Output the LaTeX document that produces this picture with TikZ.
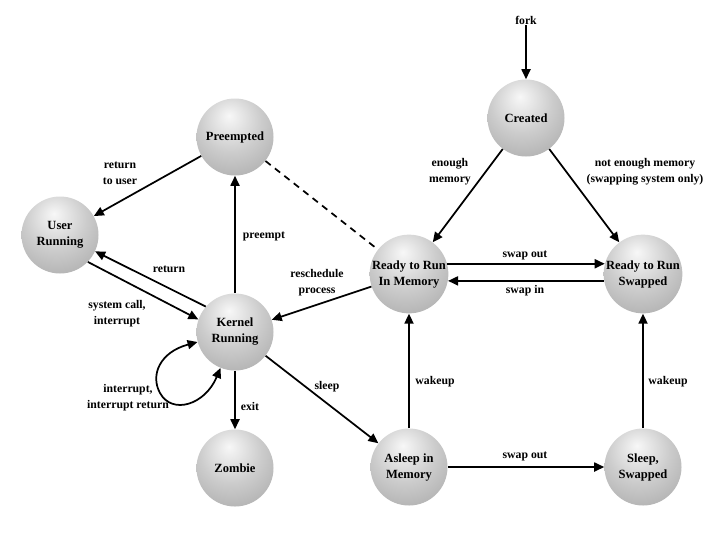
\documentclass[tikz,border=0pt]{standalone}
\usepackage{fontspec}
\setmainfont{Liberation Serif}
\usetikzlibrary{arrows.meta}

\pgfdeclareradialshading{procball}{\pgfpoint{-4bp}{14bp}}{color(0bp)=(black!3); color(20bp)=(black!20); color(52bp)=(black!42); color(72bp)=(black!50)}

\tikzset{
  state/.style={circle, shading=procball, minimum size=57.75pt, inner sep=0pt, align=center,
    font=\fontsize{9.4}{12}\selectfont\bfseries},
  lbl/.style={inner sep=0.75pt, align=center, font=\fontsize{8.8}{12}\selectfont\bfseries},
  arr/.style={line width=1.3pt, -{Triangle[length=7.5pt,width=6.75pt]}},
}

\begin{document}
\begin{tikzpicture}[x=0.75pt,y=0.75pt,yscale=-1]
\useasboundingbox (0,0) rectangle (720,540);

%Shape: Circle [states]
\node [state] (cr) at (526,118) {Created};
\node [state] (pre) at (235,137) {Preempted};
\node [state] (ur) at (60,235) {User\\Running};
\node [state] (kr) at (235,332) {Kernel\\Running};
\node [state] (zb) at (235,468) {Zombie};
\node [state] (rim) at (409,274) {Ready to Run\\In Memory};
\node [state] (rsw) at (643,274) {Ready to Run\\Swapped};
\node [state] (aim) at (409,467) {Asleep in\\Memory};
\node [state] (ssw) at (643,467) {Sleep,\\Swapped};

% Text Node
\node [lbl] (fork) at (526,20) {fork};

%Straight Lines [transitions]
\draw [arr] (fork) -- (cr);
\draw [arr] (cr) -- (rim);
\draw [arr] (cr) -- (rsw);
\draw [arr] (rim.15) -- (rsw.165);
\draw [arr] (rsw.190) -- (rim.-10);
\draw [arr] (aim) -- (rim);
\draw [arr] (ssw) -- (rsw);
\draw [arr] (aim) -- (ssw);
\draw [arr] (kr) -- (aim);
\draw [arr] (rim) -- (kr);
\draw [line width=1.3pt, dash pattern={on 5pt off 4pt}] (pre) -- (rim);
\draw [arr] (kr) -- (pre);
\draw [arr] (pre) -- (ur);
\draw [arr] (kr.139) -- (ur.-25);
\draw [arr] (ur.-44) -- (kr.161);
\draw [arr] (kr) -- (zb);
%Curve Lines [interrupt loop]
\draw [arr, {Triangle[length=7.5pt,width=6.75pt]}-{Triangle[length=7.5pt,width=6.75pt]}] (kr.195) .. controls (160,352) and (150,375) .. (160,393) .. controls (172,415) and (205,405) .. (kr.248);

% Text Node
\node [lbl] (lenough) at (450,172) {enough\\memory};
% Text Node
\node [lbl] (lnot) at (645,172) {not enough memory\\(swapping system only)};
% Text Node
\node [lbl] (lsout) at (525,255) {swap out};
% Text Node
\node [lbl] (lsin) at (525,291) {swap in};
% Text Node
\node [lbl] (lwake) at (435,382) {wakeup};
% Text Node
\node [lbl] (lwakes) at (668,382) {wakeup};
% Text Node
\node [lbl] (lsout2) at (525,456) {swap out};
% Text Node
\node [lbl] (lsleep) at (327,387) {sleep};
% Text Node
\node [lbl] (lresch) at (317,283) {reschedule\\process};
% Text Node
\node [lbl] (lpre) at (264,236) {preempt};
% Text Node
\node [lbl] (lrtu) at (120,173) {return\\to user};
% Text Node
\node [lbl] (lret) at (169,269) {return};
% Text Node
\node [lbl] (lsys) at (117,314) {system call,\\interrupt};
% Text Node
\node [lbl] (lint) at (128,398) {interrupt,\\interrupt return};
% Text Node
\node [lbl] (lexit) at (250,406) {exit};

\end{tikzpicture}
\end{document}
